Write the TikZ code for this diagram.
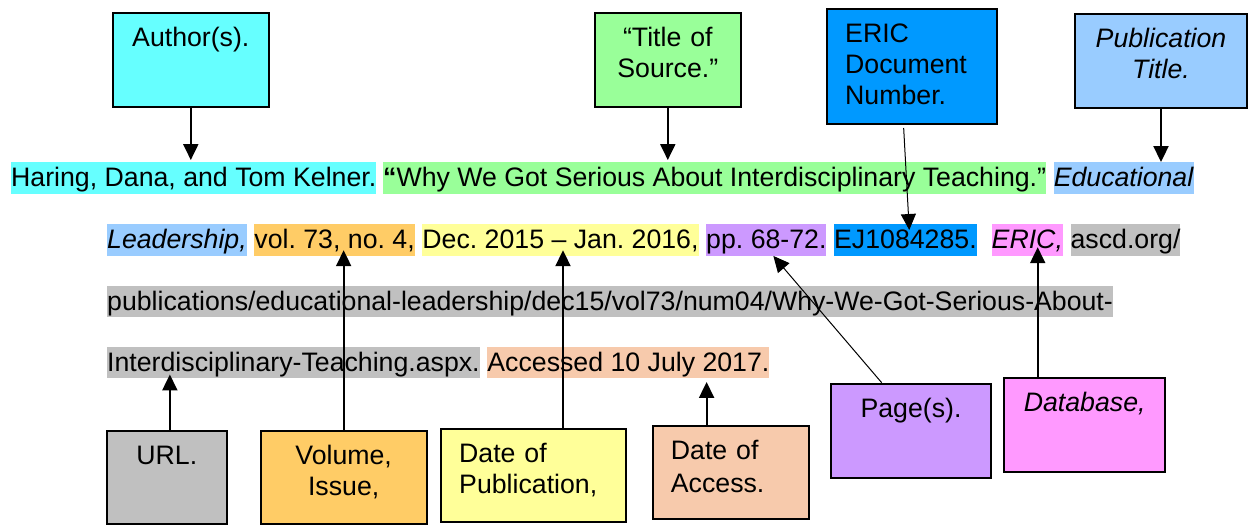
\documentclass[tikz,border=0pt]{standalone}
\usepackage{fontspec}
\setmainfont{Liberation Sans}
\usetikzlibrary{positioning, arrows.meta}
\frenchspacing

\definecolor{authorc}{HTML}{66FFFF}
\definecolor{titlec}{HTML}{99FF99}
\definecolor{pubc}{HTML}{99CCFF}
\definecolor{volc}{HTML}{FFCC66}
\definecolor{datec}{HTML}{FFFF99}
\definecolor{pagec}{HTML}{CC99FF}
\definecolor{ericc}{HTML}{0099FF}
\definecolor{dbc}{HTML}{FF99FF}
\definecolor{urlc}{HTML}{C0C0C0}
\definecolor{accessc}{HTML}{F7CAAC}

\tikzset{
    hl/.style={fill=#1, inner xsep=0pt, inner ysep=0pt, text height=24.5pt, text depth=7pt},
    tagbox/.style={draw, line width=2pt, fill=#1, inner sep=0pt, anchor=north west},
    tagtext/.style={inner sep=0pt, align=center, anchor=base},
    pointer/.style={line width=2pt, -{Triangle[width=15pt,length=16pt]}},
    thinpointer/.style={line width=1pt, -{Triangle[width=15pt,length=16pt]}},
}

\begin{document}
\begin{tikzpicture}[x=1pt, y=-1pt, font=\fontsize{26.7}{31}\selectfont]
    \useasboundingbox (0,0) rectangle (1248,525);

    % the citation, one line at a time
    \node[hl=authorc, anchor=west] (hl-author) at (11,178) {Haring, Dana, and Tom Kelner.};
    \node[hl=titlec, right=6.5pt of hl-author] (hl-title) {\textbf{“}Why We Got Serious About Interdisciplinary Teaching.”};
    \node[hl=pubc, right=7.3pt of hl-title] (hl-pub1) {\textit{Educational}};

    \node[hl=pubc, anchor=west] (hl-pub2) at (107,240) {\textit{Leadership,}};
    \node[hl=volc, right=7.3pt of hl-pub2] (hl-vol) {vol. 73, no. 4,};
    \node[hl=datec, right=7.3pt of hl-vol] (hl-date) {Dec. 2015 – Jan. 2016,};
    \node[hl=pagec, right=7.3pt of hl-date] (hl-pages) {pp. 68-72.};
    \node[hl=ericc, right=7.3pt of hl-pages] (hl-eric) {EJ1084285.};
    \node[hl=dbc, right=14.6pt of hl-eric] (hl-db) {\textit{ERIC,}};
    \node[hl=urlc, right=7.3pt of hl-db] (hl-url1) {ascd.org/};

    \node[hl=urlc, anchor=west] (hl-url2) at (107,301.5) {publications/educational-leadership/dec15/vol73/num04/Why-We-Got-Serious-About-};

    \node[hl=urlc, anchor=west] (hl-url3) at (107,362.5) {Interdisciplinary-Teaching.aspx.};
    \node[hl=accessc, right=7.3pt of hl-url3] (hl-access) {Accessed 10 July 2017.};

    % boxes above
    \node[tagbox=authorc, minimum width=156.4, minimum height=94.3] (author) at (111.6,11.7) {};
    \node[tagtext, text width=156.4pt] (author-lbl) at ([yshift=-34.5pt]author.north) {Author(s).};
    \node[tagbox=titlec, minimum width=145.6, minimum height=94.3] (title) at (594,11.7) {};
    \node[tagtext, text width=145.6pt] (title-lbl) at ([yshift=-34.5pt]title.north) {“Title of\\Source.”};
    \node[tagbox=ericc, minimum width=170, minimum height=115] (eric) at (826,8) {};
    \node[tagtext, align=left, anchor=base west, text width=140pt] (eric-lbl) at ([xshift=19pt,yshift=-34.5pt]eric.north west) {ERIC\\Document\\Number.};
    \node[tagbox=pubc, minimum width=172, minimum height=94] (pubt) at (1074,13) {};
    \node[tagtext, text width=172pt] (pubt-lbl) at ([yshift=-34.5pt]pubt.north) {\textit{Publication\\Title.}};

    % boxes below
    \node[tagbox=urlc, minimum width=120.3, minimum height=93] (url) at (105.7,430) {};
    \node[tagtext, text width=120.3pt] (url-lbl) at ([yshift=-34.5pt]url.north) {URL.};
    \node[tagbox=volc, minimum width=165.9, minimum height=93.3] (vol) at (259.7,429.7) {};
    \node[tagtext, text width=165.9pt] (vol-lbl) at ([yshift=-34.5pt]vol.north) {Volume,\\Issue,};
    \node[tagbox=datec, minimum width=185, minimum height=93.3] (datep) at (440,427.7) {};
    \node[tagtext, align=left, anchor=base west, text width=160pt] (datep-lbl) at ([xshift=19pt,yshift=-34.5pt]datep.north west) {Date of\\Publication,};
    \node[tagbox=accessc, minimum width=156.3, minimum height=92.7] (access) at (651.7,425.3) {};
    \node[tagtext, align=left, anchor=base west, text width=130pt] (access-lbl) at ([xshift=19pt,yshift=-34.5pt]access.north west) {Date of\\[2pt]Access.};
    \node[tagbox=pagec, minimum width=160, minimum height=94] (pages) at (830,382.7) {};
    \node[tagtext, text width=160pt] (pages-lbl) at ([yshift=-34.5pt]pages.north) {Page(s).};
    \node[tagbox=dbc, minimum width=160.6, minimum height=94] (db) at (1003.4,377) {};
    \node[tagtext, text width=160.6pt] (db-lbl) at ([yshift=-34.5pt]db.north) {\textit{Database,}};

    % arrows
    \draw[pointer, shorten >=2pt] (author.south) -- (author.south |- hl-author.north);
    \draw[pointer, shorten >=2pt] (title.south) -- (title.south |- hl-title.north);
    \draw[pointer] (pubt.south) -- (pubt.south |- hl-pub1.north);
    \draw[thinpointer, shorten <=3pt, shorten >=-6pt] ([xshift=-8.5pt]eric.south) -- ([xshift=3.5pt]hl-eric.north);
    \draw[pointer, shorten >=-4pt] ([xshift=3pt]url.north) -- ([xshift=3pt]url.north |- hl-url3.south);
    \draw[pointer, shorten >=-5.75pt] (vol.north) -- (vol.north |- hl-vol.south);
    \draw[pointer, shorten >=-5.75pt] ([xshift=29.5pt]datep.north) -- ([xshift=29.5pt]datep.north |- hl-date.south);
    \draw[pointer, shorten >=3.5pt] ([xshift=-24.25pt]access.north) -- ([xshift=-24.25pt]access.north |- hl-access.south);
    \draw[thinpointer] ([xshift=-29.3pt]pages.north) -- ([xshift=7pt]hl-pages.south);
    \draw[pointer, shorten >=-8.75pt] ([xshift=-47pt]db.north) -- ([xshift=-47pt]db.north |- hl-db.south);
\end{tikzpicture}
\end{document}
